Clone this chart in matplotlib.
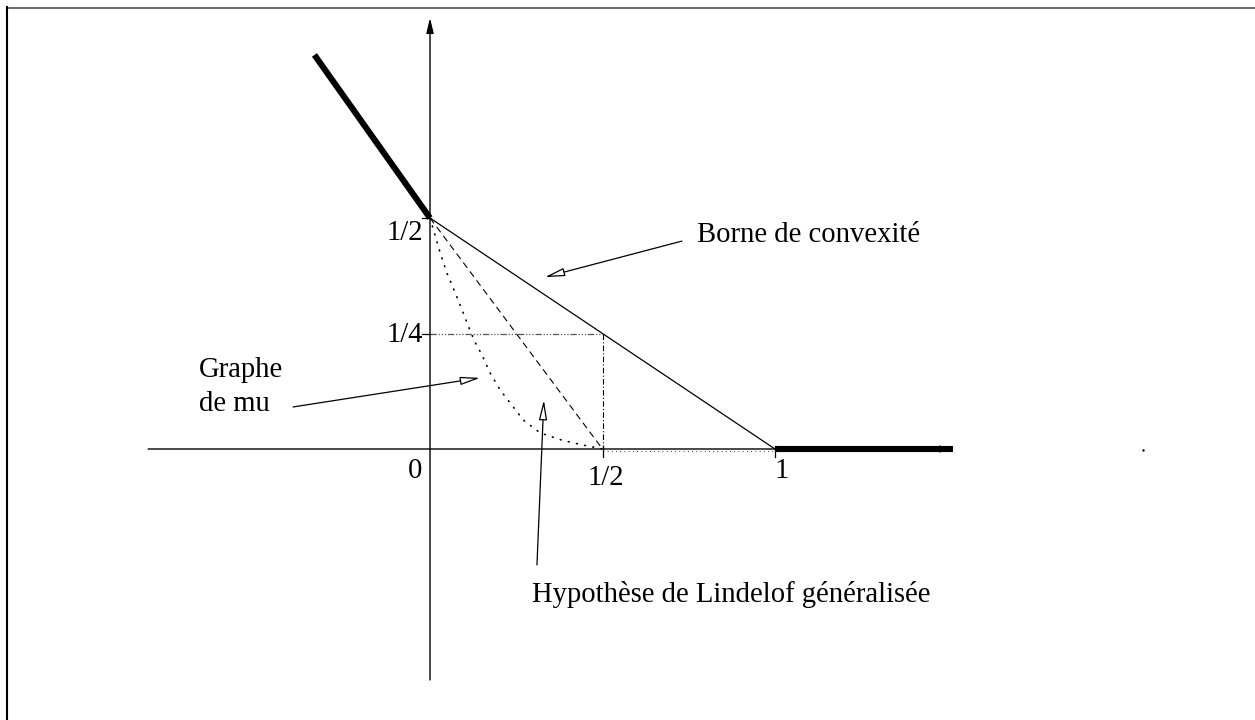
import matplotlib
matplotlib.use('Agg')
import matplotlib.pyplot as plt
from matplotlib.lines import Line2D
import numpy as np

plt.rcParams['font.family'] = ['Liberation Serif', 'DejaVu Serif']

# mu(sigma) on the left of the critical strip and past 1
left_sigma = [-0.335, 0.0]
left_mu = [0.853, 0.5]
right_sigma = [1.0, 1.516]
right_mu = [0.0, 0.0]

# convexity bound and Lindelof line
convex_sigma = [0.0, 1.0]
convex_mu = [0.5, 0.0]
lindelof_sigma = [0.0, 0.5]
lindelof_mu = [0.5, 0.0]

# dotted graph of mu
mu_sigma = [0.0, 0.029, 0.049, 0.072, 0.093, 0.110, 0.130, 0.151, 0.174,
            0.203, 0.232, 0.270, 0.319, 0.383, 0.441, 0.5]
mu_vals = [0.5, 0.426, 0.381, 0.340, 0.301, 0.268, 0.232, 0.203, 0.165,
           0.128, 0.100, 0.063, 0.035, 0.019, 0.009, 0.0]

xticks = [0.5, 1.0]
yticks = [0.25, 0.5]
x_labels = ['0', '1/2', '1']
y_labels = ['1/4', '1/2']

fig = plt.figure(figsize=(12.55, 7.2), dpi=100)
ax = fig.add_axes([0, 0, 1, 1])
ax.set_xlim(-1.2464, 2.3913)
ax.set_ylim(-0.5866, 0.9719)
ax.axis('off')

fs = 20.6
ink = 'black'

# axes with arrow heads
ax.annotate('', xy=(0, 0.933), xytext=(0, -0.5),
            arrowprops=dict(arrowstyle='-|>,head_length=0.9,head_width=0.22',
                            color=ink, lw=1.0, shrinkA=0, shrinkB=0))
ax.annotate('', xy=(1.522, 0), xytext=(-0.817, 0),
            arrowprops=dict(arrowstyle='-|>,head_length=0.9,head_width=0.2',
                            color=ink, lw=1.0, shrinkA=0, shrinkB=0))

# ticks
for t in xticks:
    ax.plot([t, t], [-0.018, 0.006], color=ink, lw=0.9)
for t in yticks:
    ax.plot([-0.022, 0], [t, t], color=ink, lw=0.9)

# thick pieces
ax.plot(left_sigma, left_mu, color=ink, lw=4.4, solid_capstyle='butt')
ax.plot(right_sigma, right_mu, color=ink, lw=4.4, solid_capstyle='butt')

ax.plot(convex_sigma, convex_mu, color=ink, lw=0.9)
ax.plot(lindelof_sigma, lindelof_mu, color=ink, lw=0.8, dashes=(6, 4))
ax.plot(mu_sigma, mu_vals, color=ink, lw=1.2, dashes=(0.5, 4.5),
        dash_capstyle='round')

# guides at sigma = 1/2
ax.plot([0, 0.5], [0.25, 0.25], color='#555555', lw=0.9,
        dashes=(5, 1.5, 1, 1.5, 1, 1.5, 1, 1.5))
ax.plot([0.5, 0.5], [0.25, 0], color=ink, lw=0.8, dashes=(5, 2, 1, 2))
ax.plot([0.5, 1.0], [-0.004, -0.004], color=ink, lw=0.8, dashes=(0.6, 3.2))

ax.plot([2.067], [-0.002], 's', color=ink, ms=0.7)

# tick labels
ax.text(-0.023, -0.063, x_labels[0], fontsize=fs, ha='right', va='baseline')
ax.text(0.51, -0.078, x_labels[1], fontsize=fs, ha='center', va='baseline')
ax.text(1.02, -0.063, x_labels[2], fontsize=fs, ha='center', va='baseline')
ax.text(-0.02, 0.232, y_labels[0], fontsize=fs, ha='right', va='baseline')
ax.text(-0.02, 0.452, y_labels[1], fontsize=fs, ha='right', va='baseline')

# labelled arrows
arrow = dict(arrowstyle='-|>,head_length=1.2,head_width=0.25', fc='white',
             ec=ink, lw=0.9, shrinkA=0, shrinkB=0)
ax.annotate('', xy=(0.333, 0.372), xytext=(0.730, 0.450), arrowprops=arrow)
ax.annotate('', xy=(0.145, 0.154), xytext=(-0.397, 0.091), arrowprops=arrow)
ax.annotate('', xy=(0.330, 0.106), xytext=(0.310, -0.251), arrowprops=arrow)

ax.text(0.774, 0.448, 'Borne de convexité', fontsize=fs, ha='left', va='baseline')
ax.text(-0.670, 0.156, 'Graphe', fontsize=fs, ha='left', va='baseline')
ax.text(-0.670, 0.082, 'de mu', fontsize=fs, ha='left', va='baseline')
ax.text(0.296, -0.331, 'Hypothèse de Lindelof généralisée', fontsize=fs,
        ha='left', va='baseline')

# frame lines along the top and left edges
fig.add_artist(Line2D([6.5, 1255], [712.5, 712.5], transform=None,
                      color='#6e6e6e', lw=1.5))
fig.add_artist(Line2D([6.5, 6.5], [0, 713], transform=None,
                      color=ink, lw=1.5))

fig.savefig('out.png', dpi=100)
